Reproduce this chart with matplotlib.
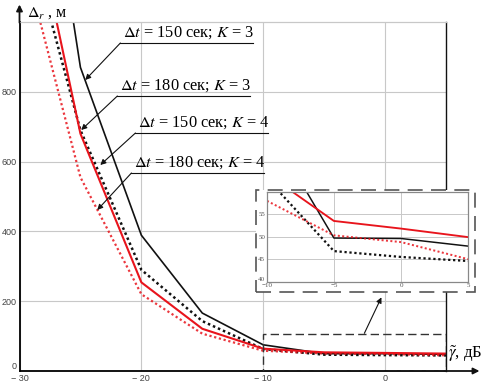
import numpy as np
import matplotlib
matplotlib.use('Agg')
import matplotlib.pyplot as plt
from matplotlib.patches import Rectangle

plt.rcParams['mathtext.fontset'] = 'stix'
plt.rcParams['font.family'] = ['Liberation Serif', 'DejaVu Serif']

# SNR, dB
snr = [-30, -25, -20, -15, -10, -5, 0, 5]
# range error, m
err_150_k3 = [2000, 870, 389, 166, 75, 49.7, 49.6, 47.9]
err_180_k3 = [1340, 690, 290, 143, 63, 46.8, 45.5, 44.6]
err_150_k4 = [1500, 680, 254, 121, 64, 53.5, 51.8, 49.9]
err_180_k4 = [1230, 555, 220, 107, 58, 50.3, 48.8, 45.0]

xticks = [-30, -20, -10, 0]
xticklabels = ['\u2212 30', '\u2212 20', '\u2212 10', '0']
yticks = [0, 200, 400, 600, 800]
in_xticks = [-10, -5, 0, 5]
in_xticklabels = ['\u221210', '\u22125', '0', '5']
in_yticks = [40, 45, 50, 55]

labels = [r'$\Delta t$ = 150 сек; $K$ = 3',
          r'$\Delta t$ = 180 сек; $K$ = 3',
          r'$\Delta t$ = 150 сек; $K$ = 4',
          r'$\Delta t$ = 180 сек; $K$ = 4']

W, H = 490, 383
fig = plt.figure(figsize=(W/100, H/100), dpi=100)

def px(x0, y0, x1, y1):
    # pixel box (top-left origin) -> figure fraction
    return [x0/W, 1-y1/H, (x1-x0)/W, (y1-y0)/H]

ax = fig.add_axes(px(19.5, 22, 446, 371))
ax.set_zorder(0)

grid_c = '#c8c8c8'
red = '#e8141c'
dots = (0, (1.0, 1.2))

def draw_lines(a, lw_scale=1.0):
    a.plot(snr, err_150_k3, color='#111111', lw=1.2*lw_scale)
    a.plot(snr, err_180_k3, color='#111111', lw=1.8*lw_scale, ls=dots)
    a.plot(snr, err_150_k4, color=red, lw=1.5*lw_scale)
    a.plot(snr, err_180_k4, color=red, lw=1.6*lw_scale, ls=dots, alpha=0.85)

draw_lines(ax)
ax.set_xlim(-30, 5)
ax.set_ylim(0, 1000)
ax.set_xticks(xticks)
ax.set_xticklabels(xticklabels, family='Liberation Sans', fontsize=6.5, color='#444444')
ax.set_yticks(yticks)
ax.set_yticklabels([str(v) for v in yticks], family='Liberation Sans', fontsize=6.5, color='#444444')
ax.get_yticklabels()[0].set_va('bottom')
ax.tick_params(length=0, pad=2)
ax.grid(True, color=grid_c, lw=0.8)
ax.spines['top'].set_color(grid_c)
ax.spines['top'].set_linewidth(0.9)
ax.spines['right'].set_color('#111111')
ax.spines['right'].set_linewidth(1.0)
ax.spines['left'].set_linewidth(1.3)
ax.spines['bottom'].set_linewidth(1.3)

# axis arrows
ax.annotate('', xy=(1.085, 0), xytext=(0.99, 0), xycoords='axes fraction',
            arrowprops=dict(arrowstyle='-|>', lw=1.3, color='#111111', mutation_scale=9),
            annotation_clip=False)
ax.annotate('', xy=(0, 1.058), xytext=(0, 0.99), xycoords='axes fraction',
            arrowprops=dict(arrowstyle='-|>', lw=1.3, color='#111111', mutation_scale=9),
            annotation_clip=False)

fig.text(27/W, 1-13/H, r'$\Delta_{r}$ , м', fontsize=11.5, va='center', ha='left')
fig.text(448/W, 1-354/H, r'$\tilde{\gamma}$, дБ', fontsize=12, va='center', ha='left')

# curve labels with underline leader + arrow
def to_data(xp, yp):
    return -30 + (xp - 19.5) / 12.14, (371 - yp) / 0.349

label_geo = [  # underline left, right, y ; arrow tip
    ((120, 252, 43), (85, 80)),
    ((117, 249, 96), (81, 130)),
    ((135, 267, 133), (100, 165)),
    ((131, 263, 173), (97, 210)),
]
for lab, ((xl, xr, yu), (xt, yt)) in zip(labels, label_geo):
    x0, y0 = to_data(xl, yu)
    x1, _ = to_data(xr, yu)
    ax.plot([x0, x1], [y0, y0], color='#111111', lw=0.8, clip_on=False)
    ax.text((x0 + x1) / 2 + 0.2, y0 + 6, lab, fontsize=11.8, ha='center', va='bottom')
    ax.annotate('', xy=to_data(xt, yt), xytext=(x0, y0),
                arrowprops=dict(arrowstyle='-|>', lw=0.8, color='#111111', mutation_scale=8,
                                shrinkA=0, shrinkB=0))

# zoom box in main axes
ax.add_patch(Rectangle((-10, 0), 15, 105, fill=False, ls=(0, (6, 3)), lw=1.0,
                       ec='#333333', zorder=5))
ax.annotate('', xy=(-0.3, 211), xytext=(-1.7, 108),
            arrowprops=dict(arrowstyle='-|>', lw=0.8, color='#111111', mutation_scale=8,
                            shrinkA=0, shrinkB=0))

# inset frame (dashed, white filled)
frame = Rectangle((256/W, 1-292/H), 219/W, 102/H, transform=fig.transFigure,
                  facecolor='white', edgecolor='#555555', ls=(0, (9, 5)), lw=1.2, zorder=1)
fig.add_artist(frame)

axin = fig.add_axes(px(266.7, 191.7, 468.3, 281.7))
axin.set_zorder(2)
draw_lines(axin, 0.9)
axin.set_xlim(-10, 5)
axin.set_ylim(40, 60)
axin.set_xticks(in_xticks)
axin.set_xticklabels(in_xticklabels, family='Liberation Serif', fontsize=5, color='#555555')
axin.set_yticks(in_yticks)
axin.set_yticklabels([str(v) for v in in_yticks], family='Liberation Serif', fontsize=5, color='#555555')
axin.get_yticklabels()[0].set_va('bottom')
axin.tick_params(length=0, pad=1)
axin.grid(True, color=grid_c, lw=0.7)
for s in axin.spines.values():
    s.set_color('#888888')
    s.set_linewidth(0.9)

fig.savefig('out.png', dpi=100)
